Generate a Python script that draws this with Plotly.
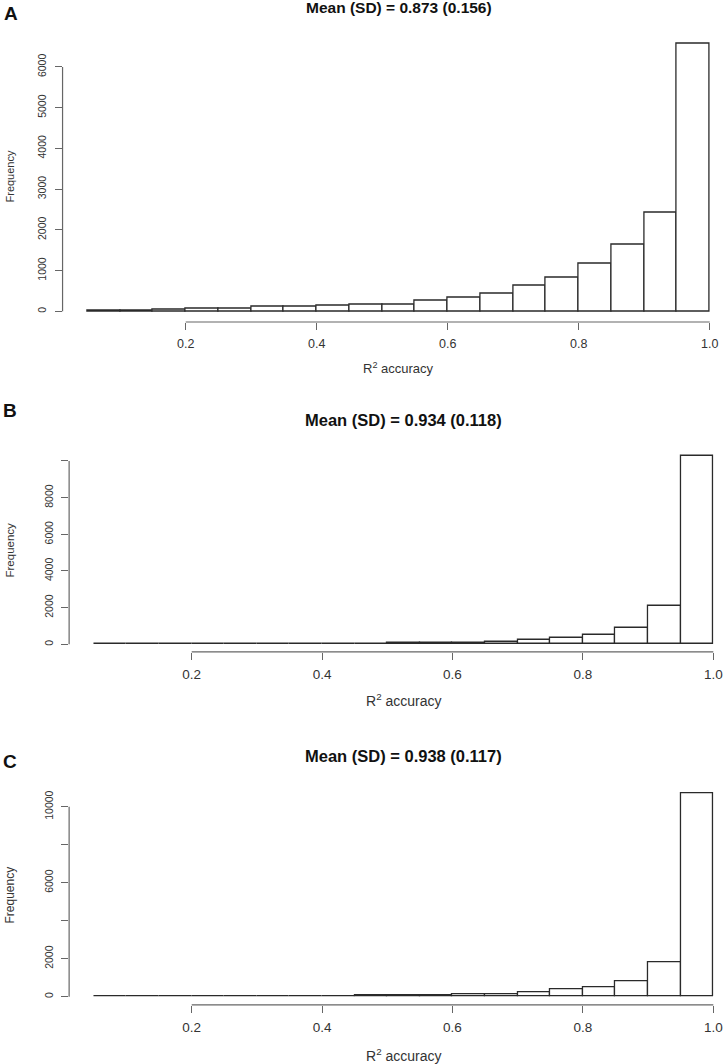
import plotly.graph_objects as go

W, H = 726, 1064
FONT = "Liberation Sans, Arial, sans-serif"

# histogram bins (R² accuracy)
bin_edges = [0.05, 0.10, 0.15, 0.20, 0.25, 0.30, 0.35, 0.40, 0.45, 0.50,
             0.55, 0.60, 0.65, 0.70, 0.75, 0.80, 0.85, 0.90, 0.95, 1.00]

counts_a = [5, 10, 30, 70, 75, 110, 115, 140, 170, 175,
            262, 336, 442, 630, 827, 1180, 1645, 2430, 6580]
counts_b = [3, 5, 10, 15, 15, 20, 25, 30, 45, 50,
            55, 60, 145, 220, 365, 510, 875, 2090, 10300]
counts_c = [3, 5, 8, 10, 12, 20, 30, 35, 50, 85,
            70, 140, 140, 230, 370, 475, 790, 1825, 10700]

titles = ["Mean (SD) = 0.873 (0.156)",
          "Mean (SD) = 0.934 (0.118)",
          "Mean (SD) = 0.938 (0.117)"]
letters = ["A", "B", "C"]

x_ticks = [0.2, 0.4, 0.6, 0.8, 1.0]
x_ticktext = ["0.2", "0.4", "0.6", "0.8", "1.0"]

# labelled ticks, plus unlabelled ones (R drops labels that would overlap)
y_ticks_a = [0, 1000, 2000, 3000, 4000, 5000, 6000]
y_bare_a = []
y_ticks_b = [0, 2000, 4000, 6000, 8000]
y_bare_b = [10000]
y_ticks_c = [0, 2000, 6000, 10000]
y_bare_c = [4000, 8000]

# pixel geometry of each panel (where x=0 / y=0 fall and scale)
panels = [
    dict(counts=counts_a, yt=y_ticks_a, yb=y_bare_a,
         x0=54.7, ppx=655, y0=311.3, ppy=244.3 / 6000,
         title_y=7.5, title_fs=15.5, letter=(11, 13.5), freq_y=177, freq_fs=11,
         xlab_y=368, xlab_fs=13, xtick_fs=12.5),
    dict(counts=counts_b, yt=y_ticks_b, yb=y_bare_b,
         x0=61.3, ppx=652, y0=644.3, ppy=36.67 / 2000,
         title_y=420, title_fs=16.5, letter=(10, 411), freq_y=550, freq_fs=11.5,
         xlab_y=700, xlab_fs=14, xtick_fs=13.5),
    dict(counts=counts_c, yt=y_ticks_c, yb=y_bare_c,
         x0=61.3, ppx=652, y0=996.7, ppy=190 / 10000,
         title_y=756, title_fs=16.5, letter=(10, 761.5), freq_y=895, freq_fs=12,
         xlab_y=1055, xlab_fs=14, xtick_fs=13.5),
]

mids = [(a + b) / 2 for a, b in zip(bin_edges[:-1], bin_edges[1:])]
widths = [b - a for a, b in zip(bin_edges[:-1], bin_edges[1:])]

fig = go.Figure()
shapes, annotations = [], []
axis_col = "#666666"
text_col = "#333333"

for i, p in enumerate(panels):
    n = "" if i == 0 else str(i + 1)
    xa, ya = "x" + n, "y" + n

    fig.add_trace(go.Bar(
        x=mids, y=p["counts"], width=widths,
        marker=dict(color="white", line=dict(color="#2a2a2a", width=1.3)),
        xaxis=xa, yaxis=ya, showlegend=False, hoverinfo="x+y",
    ))

    # R-style limits: data range padded by 4%
    ymax = max(p["counts"])
    y_lo, y_hi = -0.04 * ymax, 1.04 * ymax
    x_lo = 0.012
    x_hi = (W - p["x0"]) / p["ppx"]
    left_px = p["x0"] + x_lo * p["ppx"]
    top_px = p["y0"] - y_hi * p["ppy"]
    bot_px = p["y0"] - y_lo * p["ppy"]
    centre_px = p["x0"] + (0.012 + 1.038) / 2 * p["ppx"]
    all_y = sorted(p["yt"] + p["yb"])

    yaxis = dict(
        domain=[1 - bot_px / H, 1 - top_px / H], range=[y_lo, y_hi],
        anchor=xa, tickvals=p["yt"], ticktext=[str(v) for v in p["yt"]],
        tickangle=-90, ticks="outside", ticklen=7, tickwidth=1.2,
        tickcolor=axis_col, showline=False, showgrid=False, zeroline=False,
        automargin=False, fixedrange=True, ticklabelstandoff=4,
        tickfont=dict(family=FONT, size=10.5, color=text_col),
    )
    if p["yb"]:
        yaxis["minor"] = dict(tickvals=p["yb"], ticks="outside", ticklen=7,
                              tickwidth=1.2, tickcolor=axis_col, showgrid=False)

    fig.update_layout({
        "xaxis" + n: dict(
            domain=[left_px / W, 1], range=[x_lo, x_hi], anchor=ya,
            tickvals=x_ticks, ticktext=x_ticktext, ticks="outside",
            ticklen=7, tickwidth=1.2, tickcolor=axis_col, showline=False,
            showgrid=False, zeroline=False, automargin=False, fixedrange=True,
            tickfont=dict(family=FONT, size=p["xtick_fs"], color=text_col),
            ticklabelstandoff=3,
        ),
        "yaxis" + n: yaxis,
    })

    # axis lines only span the tick range, like base R
    shapes.append(dict(type="line", xref=xa, yref=ya + " domain",
                       x0=x_ticks[0], x1=x_ticks[-1], y0=0, y1=0,
                       line=dict(color=axis_col, width=1.2)))
    shapes.append(dict(type="line", xref=xa + " domain", yref=ya,
                       x0=0, x1=0, y0=all_y[0], y1=all_y[-1],
                       line=dict(color=axis_col, width=1.2)))

    annotations += [
        dict(text="<b>" + titles[i] + "</b>", x=centre_px / W, y=1 - p["title_y"] / H,
             xref="paper", yref="paper", showarrow=False, xanchor="center",
             yanchor="middle", font=dict(family=FONT, size=p["title_fs"], color="#111")),
        dict(text="<b>" + letters[i] + "</b>", x=p["letter"][0] / W,
             y=1 - p["letter"][1] / H, xref="paper", yref="paper", showarrow=False,
             xanchor="center", yanchor="middle",
             font=dict(family=FONT, size=19, color="#111")),
        dict(text="Frequency", x=9.5 / W, y=1 - p["freq_y"] / H, xref="paper",
             yref="paper", showarrow=False, textangle=-90, xanchor="center",
             yanchor="middle", font=dict(family=FONT, size=p["freq_fs"], color=text_col)),
        dict(text="R<sup>2</sup> accuracy", x=centre_px / W, y=1 - p["xlab_y"] / H,
             xref="paper", yref="paper", showarrow=False, xanchor="center",
             yanchor="middle", font=dict(family=FONT, size=p["xlab_fs"], color=text_col)),
    ]

fig.update_layout(
    width=W, height=H, autosize=False,
    margin=dict(l=0, r=0, t=0, b=0, pad=0),
    paper_bgcolor="white", plot_bgcolor="white",
    shapes=shapes, annotations=annotations,
    bargap=0, showlegend=False,
)

fig.write_html("out.html",
               config={"displayModeBar": False},
               post_script="document.body.style.margin='0';"
                           "document.body.style.overflow='hidden';")
